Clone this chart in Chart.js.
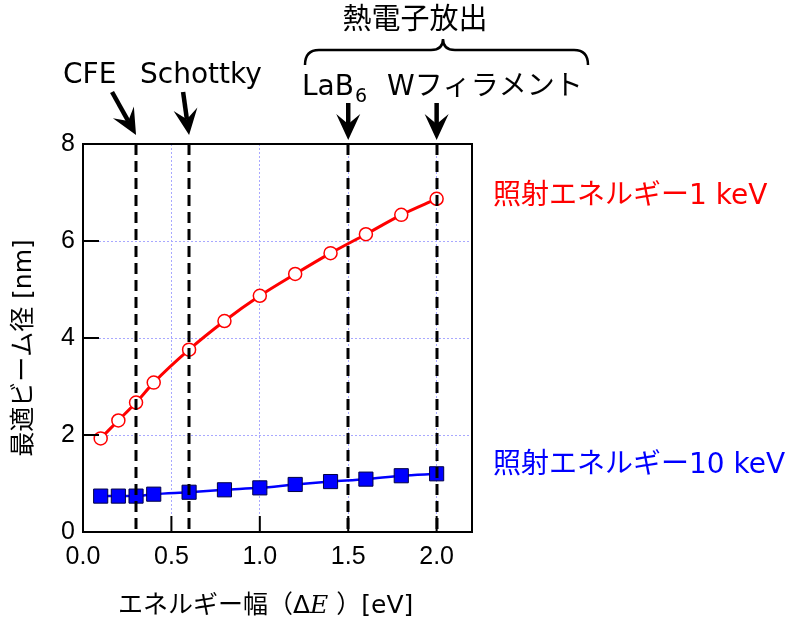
<!DOCTYPE html>
<html><head><meta charset="utf-8">
<script src="https://cdn.jsdelivr.net/npm/chart.js@4.4.1/dist/chart.umd.min.js"></script>
<style>html,body{margin:0;padding:0;background:#fff}#wrap{width:793px;height:625px;position:relative}</style>
</head><body><div id="wrap"><canvas id="c" width="793" height="625"></canvas></div>
<script>
// ---- data ----
const energyWidth = [0.1, 0.2, 0.3, 0.4, 0.6, 0.8, 1.0, 1.2, 1.4, 1.6, 1.8, 2.0];
const beam1keV    = [1.93, 2.30, 2.67, 3.08, 3.76, 4.35, 4.87, 5.32, 5.75, 6.14, 6.54, 6.87];
const beam10keV   = [0.74, 0.74, 0.74, 0.78, 0.82, 0.87, 0.91, 0.98, 1.04, 1.09, 1.16, 1.20];
const xTicks = [0.0, 0.5, 1.0, 1.5, 2.0];
const yTicks = [0, 2, 4, 6, 8];
const sourceNames = ['CFE', 'Schottky', 'LaB', 'Wフィラメント'];
const sourceDE = [0.3, 0.6, 1.5, 2.0];
const label1 = '照射エネルギー1 keV';
const label10 = '照射エネルギー10 keV';
const groupLabel = '熱電子放出';
const yTitle = '最適ビーム径 [nm]';

const FONT = '"DejaVu Sans", "Noto Sans CJK JP", sans-serif';
const TICKFONT = '"Liberation Sans", Arial, sans-serif';

const overlay = {
  id: 'overlay',
  afterDatasetsDraw(chart) {
    const ctx = chart.ctx, a = chart.chartArea;
    const xs = chart.scales.x, ys = chart.scales.y;
    ctx.save();
    // frame
    ctx.strokeStyle = '#000'; ctx.lineWidth = 2;
    ctx.strokeRect(a.left, a.top, a.right - a.left, a.bottom - a.top);
    // inward ticks
    ctx.beginPath();
    yTicks.forEach(v => { if (v > 0 && v < 8) { const y = ys.getPixelForValue(v); ctx.moveTo(a.left, y); ctx.lineTo(a.left + 16, y); } });
    xTicks.forEach(v => { if (v > 0) { const x = xs.getPixelForValue(v); ctx.moveTo(x, a.bottom); ctx.lineTo(x, a.bottom - 16); } });
    ctx.stroke();
    // dashed source lines
    ctx.lineWidth = 3; ctx.setLineDash([11, 6]);
    sourceDE.forEach(v => {
      const x = Math.round(xs.getPixelForValue(v));
      ctx.beginPath(); ctx.moveTo(x, a.top); ctx.lineTo(x, a.bottom); ctx.stroke();
    });
    ctx.setLineDash([]);
    // arrows
    const tails = [[-24, 92, 135], [-6, 92, 135], [0, 103, 140], [0, 103, 140]];
    sourceDE.forEach((v, i) => {
      const tx = xs.getPixelForValue(v), ty = tails[i][2];
      const sx = tx + tails[i][0], sy = tails[i][1];
      const ang = Math.atan2(ty - sy, tx - sx);
      const c = Math.cos(ang), s = Math.sin(ang);
      const L = 24, W = 12;
      const bx = tx - L * c, by = ty - L * s;
      ctx.lineWidth = 4.5; ctx.strokeStyle = '#000';
      ctx.beginPath(); ctx.moveTo(sx, sy); ctx.lineTo(bx + 8 * c, by + 8 * s); ctx.stroke();
      const px = -s, py = c;
      ctx.fillStyle = '#000';
      ctx.beginPath();
      ctx.moveTo(tx, ty);
      ctx.lineTo(bx + px * W - 2 * c, by + py * W - 2 * s);
      ctx.lineTo(bx + 8 * c, by + 8 * s);
      ctx.lineTo(bx - px * W - 2 * c, by - py * W - 2 * s);
      ctx.closePath(); ctx.fill();
    });
    // source labels
    ctx.fillStyle = '#000'; ctx.textBaseline = 'alphabetic'; ctx.textAlign = 'left';
    ctx.font = '28px ' + FONT;
    ctx.fillText(sourceNames[0], 63, 83);
    ctx.fillText(sourceNames[1], 140, 83);
    ctx.fillText(sourceNames[2], 302, 95);
    const wLaB = ctx.measureText(sourceNames[2]).width;
    ctx.font = '19px ' + FONT;
    ctx.fillText('6', 302 + wLaB + 1, 102);
    ctx.font = '28px ' + FONT;
    ctx.fillText(sourceNames[3], 387, 95);
    // group label and brace
    ctx.textAlign = 'center'; ctx.textBaseline = 'middle';
    ctx.font = '29px ' + FONT;
    ctx.fillText(groupLabel, 415, 21);
    ctx.lineWidth = 2.5; ctx.strokeStyle = '#000';
    const bl = 305, br = 588, bm = 443, bt = 50, bb = 65, bp = 39;
    ctx.beginPath();
    ctx.moveTo(bl, bb);
    ctx.quadraticCurveTo(bl, bt, bl + 14, bt);
    ctx.lineTo(bm - 12, bt);
    ctx.quadraticCurveTo(bm, bt, bm, bp);
    ctx.quadraticCurveTo(bm, bt, bm + 12, bt);
    ctx.lineTo(br - 14, bt);
    ctx.quadraticCurveTo(br, bt, br, bb);
    ctx.stroke();
    // series labels
    ctx.textAlign = 'left'; ctx.textBaseline = 'alphabetic';
    ctx.font = '28px ' + FONT;
    ctx.fillStyle = '#ff0000'; ctx.fillText(label1, 493, 204);
    ctx.fillStyle = '#0000ff'; ctx.fillText(label10, 493, 473);
    // y title
    ctx.fillStyle = '#000';
    ctx.save();
    ctx.translate(24, 348); ctx.rotate(-Math.PI / 2);
    ctx.textAlign = 'center'; ctx.textBaseline = 'middle';
    ctx.font = '25px ' + FONT;
    ctx.fillText(yTitle, 0, 0);
    ctx.restore();
    // x title with italic E
    ctx.textAlign = 'left'; ctx.textBaseline = 'middle';
    const parts = [['エネルギー幅（Δ', ''], ['E', 'italic '], [' ）[eV]', '']];
    let x = 118;
    parts.forEach(p => {
      ctx.font = p[1] + '25px ' + (p[1] ? '"DejaVu Serif", serif' : FONT);
      ctx.fillText(p[0], x, 606);
      x += ctx.measureText(p[0]).width;
    });
    ctx.restore();
  }
};

const gridColor = ctx => {
  const v = ctx.tick ? ctx.tick.value : null;
  const edge = ctx.scale.id === 'x' ? (v === 0 || v >= 2.2) : (v === 0 || v === 8);
  return edge ? 'rgba(0,0,0,0)' : '#a8a8ff';
};

new Chart(document.getElementById('c'), {
  type: 'line',
  data: {
    datasets: [
      {
        label: label1,
        data: energyWidth.map((x, i) => ({ x, y: beam1keV[i] })),
        borderColor: '#ff0000', borderWidth: 3,
        pointStyle: 'circle', pointRadius: 6.5, pointBorderWidth: 1.5,
        pointBackgroundColor: '#ffffff', pointBorderColor: '#ff0000',
        cubicInterpolationMode: 'monotone'
      },
      {
        label: label10,
        data: energyWidth.map((x, i) => ({ x, y: beam10keV[i] })),
        borderColor: '#0000ff', borderWidth: 2.5,
        pointStyle: 'rect', pointRadius: 10, pointBorderWidth: 1,
        pointBackgroundColor: '#0000ff', pointBorderColor: '#000044',
        cubicInterpolationMode: 'monotone'
      }
    ]
  },
  options: {
    responsive: false, animation: false,
    layout: { padding: { left: 0, right: 321, top: 144, bottom: 0 } },
    plugins: { legend: { display: false }, tooltip: { enabled: false } },
    scales: {
      x: {
        type: 'linear', min: 0, max: 2.2,
        afterBuildTicks: s => { s.ticks = xTicks.map(v => ({ value: v })); },
        afterFit: s => { s.height = 93; },
        ticks: { color: '#000', font: { size: 25, family: TICKFONT }, padding: 10, callback: v => v.toFixed(1) },
        grid: { color: gridColor, lineWidth: 1, drawTicks: false },
        border: { display: false, dash: [2, 2] }
      },
      y: {
        type: 'linear', min: 0, max: 8,
        afterBuildTicks: s => { s.ticks = yTicks.map(v => ({ value: v })); },
        afterFit: s => { s.width = 83; },
        ticks: { color: '#000', font: { size: 25, family: TICKFONT }, padding: 8 },
        grid: { color: gridColor, lineWidth: 1, drawTicks: false },
        border: { display: false, dash: [2, 2] }
      }
    }
  },
  plugins: [overlay]
});
</script>
</body></html>
